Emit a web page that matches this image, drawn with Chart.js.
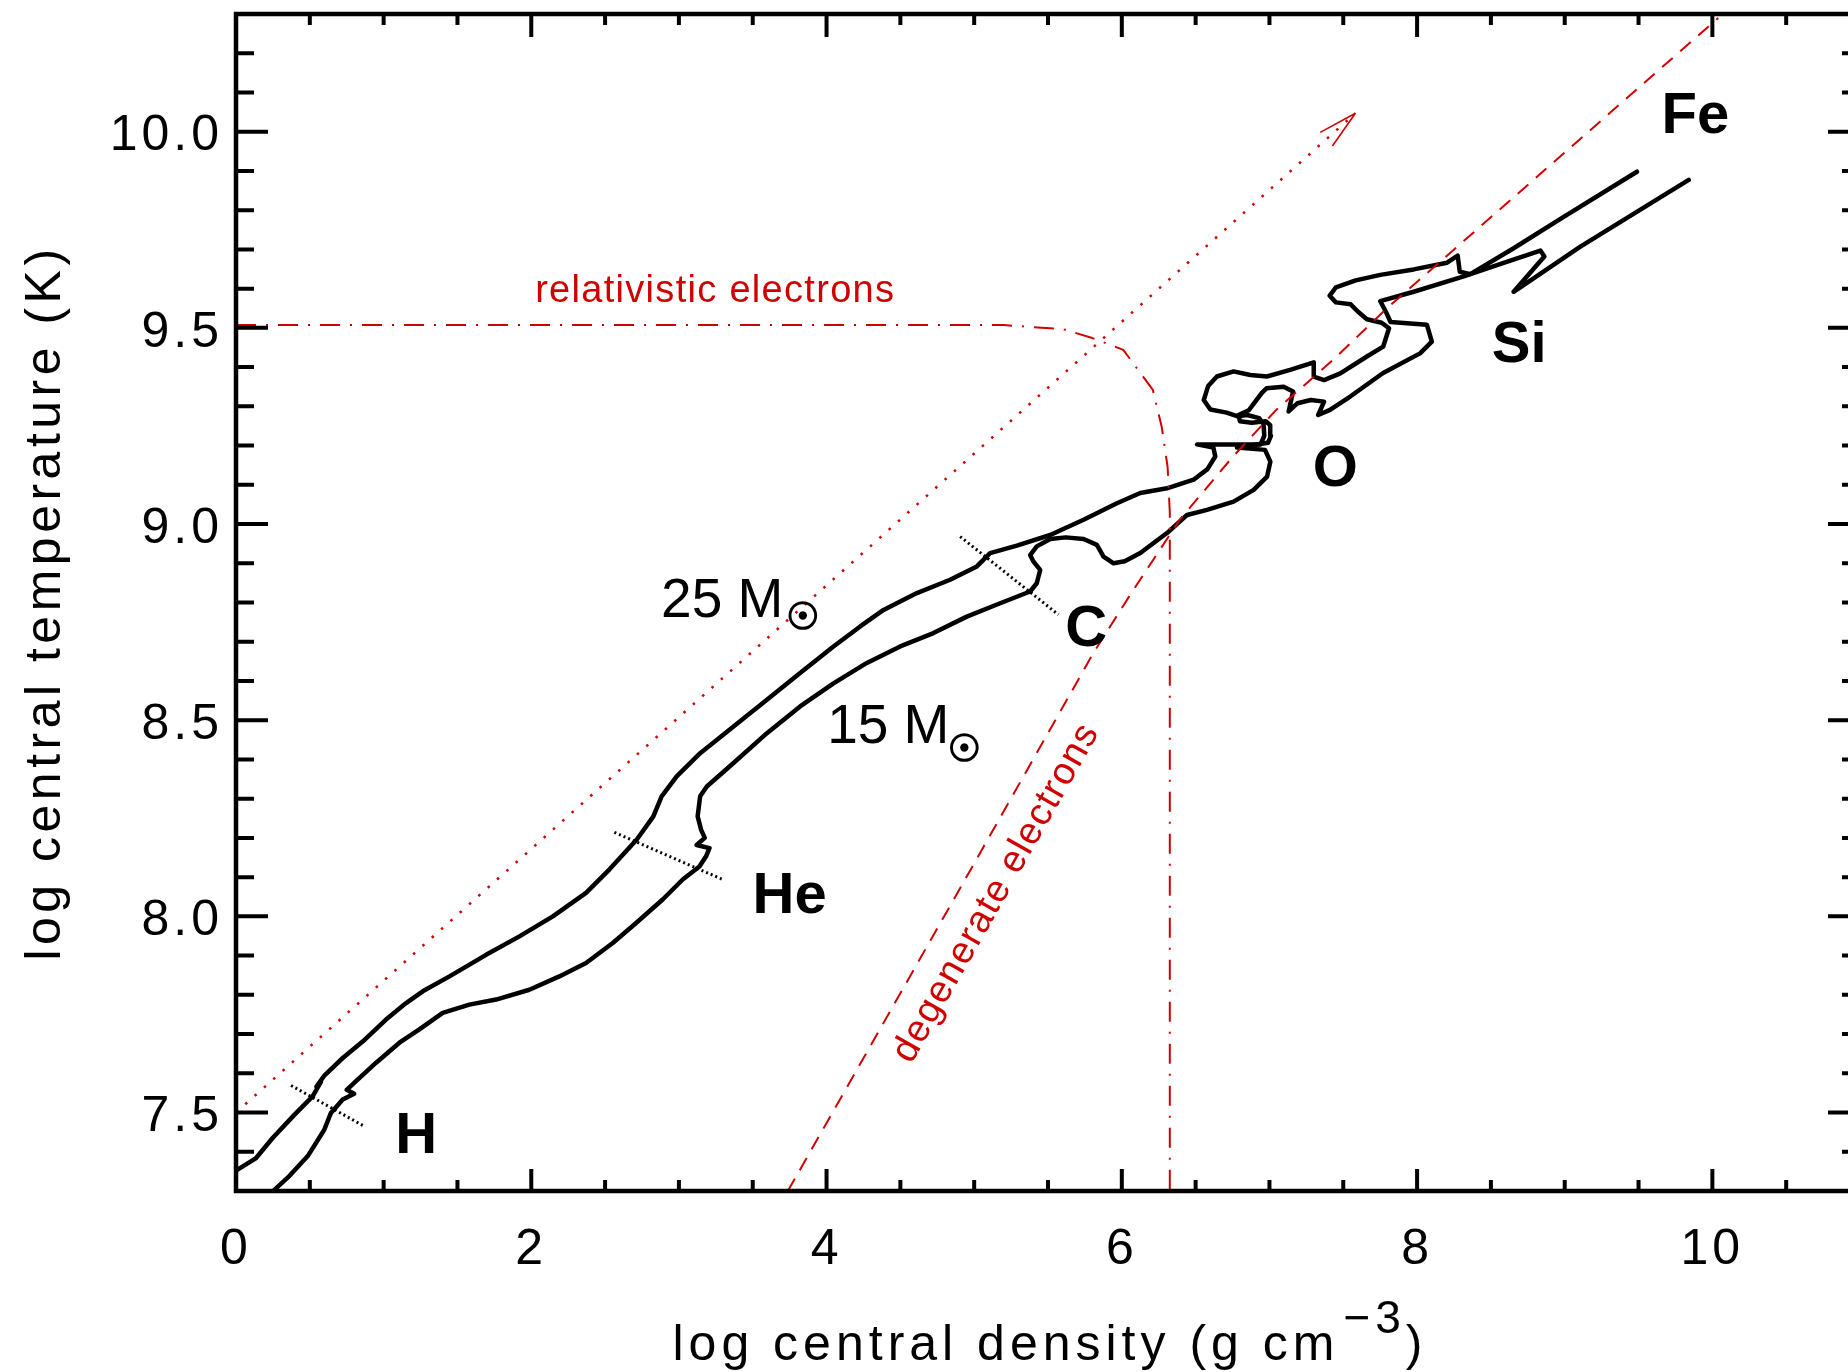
<!DOCTYPE html>
<html lang="en">
<head>
<meta charset="utf-8">
<title>Central density vs central temperature</title>
<script src="https://cdn.jsdelivr.net/npm/chart.js@4.4.1/dist/chart.umd.min.js"></script>
<style>
  html, body { margin: 0; padding: 0; background: #fff; overflow: hidden; }
  #frame { width: 1848px; height: 1372px; overflow: hidden; }
  #burnChart { display: block; }
</style>
</head>
<body>
<div id="frame"><canvas id="burnChart" width="1872" height="1372"></canvas></div>
<script>
// Tick labels shown on the axes
const xLabelValues = [0, 2, 4, 6, 8, 10];
const yLabelValues = [7.5, 8.0, 8.5, 9.0, 9.5, 10.0];

// 25 Msun track: [log rho_c, log T_c]
const track25 = [
  [0.000, 7.352], [0.136, 7.384], [0.248, 7.435], [0.395, 7.494], [0.519, 7.541],
  [0.575, 7.578], [0.545, 7.566], [0.600, 7.595], [0.723, 7.639], [0.858, 7.681],
  [1.016, 7.737], [1.152, 7.779], [1.265, 7.809], [1.446, 7.847], [1.694, 7.902],
  [1.920, 7.949], [2.146, 8.000], [2.371, 8.060], [2.530, 8.120], [2.715, 8.196],
  [2.827, 8.255], [2.883, 8.306], [2.985, 8.357], [3.144, 8.416], [3.370, 8.484],
  [3.596, 8.552], [3.821, 8.620], [4.047, 8.688], [4.228, 8.739], [4.386, 8.781],
  [4.612, 8.824], [4.837, 8.858], [5.018, 8.892], [5.108, 8.926], [5.289, 8.945],
  [5.515, 8.972], [5.741, 9.011], [5.967, 9.053], [6.125, 9.079], [6.306, 9.091],
  [6.486, 9.113], [6.580, 9.140], [6.633, 9.172], [6.620, 9.195], [6.510, 9.203],
  [6.940, 9.203], [6.965, 9.225], [6.960, 9.255], [6.930, 9.270], [6.850, 9.278],
  [6.780, 9.275], [6.710, 9.284], [6.600, 9.292], [6.555, 9.316], [6.585, 9.352],
  [6.644, 9.376], [6.757, 9.389], [6.870, 9.380], [6.983, 9.376], [7.140, 9.393],
  [7.300, 9.412], [7.300, 9.376], [7.370, 9.367], [7.480, 9.384], [7.660, 9.427],
  [7.770, 9.452], [7.810, 9.499], [7.760, 9.513], [7.660, 9.522], [7.600, 9.541],
  [7.550, 9.560], [7.450, 9.565], [7.408, 9.582], [7.450, 9.603], [7.584, 9.621],
  [7.751, 9.635], [7.977, 9.649], [8.203, 9.666], [8.275, 9.684], [8.289, 9.643],
  [8.360, 9.637], [8.654, 9.703], [8.993, 9.783], [9.489, 9.898]
];

// 15 Msun track
const track15 = [
  [0.245, 7.298], [0.361, 7.338], [0.486, 7.389], [0.598, 7.456], [0.643, 7.499],
  [0.723, 7.533], [0.800, 7.548], [0.750, 7.558], [0.813, 7.580], [0.949, 7.627],
  [1.107, 7.678], [1.242, 7.712], [1.400, 7.754], [1.581, 7.775], [1.762, 7.788],
  [1.987, 7.813], [2.190, 7.847], [2.371, 7.881], [2.552, 7.932], [2.710, 7.983],
  [2.890, 8.043], [3.026, 8.094], [3.139, 8.127], [3.184, 8.153], [3.207, 8.174],
  [3.120, 8.182], [3.175, 8.200], [3.150, 8.221], [3.127, 8.255], [3.144, 8.306],
  [3.189, 8.331], [3.370, 8.391], [3.596, 8.467], [3.821, 8.535], [4.047, 8.594],
  [4.273, 8.646], [4.499, 8.688], [4.724, 8.722], [4.950, 8.764], [5.176, 8.798],
  [5.379, 8.828], [5.424, 8.849], [5.447, 8.883], [5.402, 8.904], [5.379, 8.921],
  [5.424, 8.943], [5.515, 8.962], [5.620, 8.966], [5.741, 8.962], [5.831, 8.947],
  [5.876, 8.917], [5.944, 8.900], [6.020, 8.905], [6.125, 8.926], [6.306, 8.977],
  [6.441, 9.023], [6.577, 9.036], [6.757, 9.057], [6.893, 9.087], [6.984, 9.121],
  [7.006, 9.159], [6.970, 9.189], [6.780, 9.195], [6.990, 9.207], [7.010, 9.225],
  [7.005, 9.252], [6.975, 9.262], [6.880, 9.258], [6.800, 9.262], [6.790, 9.278],
  [6.860, 9.290], [6.900, 9.310], [6.950, 9.335], [6.980, 9.346], [7.096, 9.350],
  [7.160, 9.338], [7.130, 9.287], [7.190, 9.308], [7.280, 9.316], [7.370, 9.312],
  [7.330, 9.278], [7.410, 9.291], [7.547, 9.325], [7.770, 9.385], [8.020, 9.435],
  [8.100, 9.465], [8.066, 9.508], [7.820, 9.515], [7.790, 9.540], [7.751, 9.568],
  [7.977, 9.592], [8.316, 9.631], [8.541, 9.660], [8.835, 9.697], [8.862, 9.682],
  [8.654, 9.592], [9.106, 9.707], [9.840, 9.877]
];

// ignition markers (short dotted bars across both tracks)
const hIgnition = [[0.373, 7.569], [0.869, 7.465]];
const heIgnition = [[2.563, 8.214], [3.297, 8.094]];
const cIgnition = [[4.905, 8.968], [5.571, 8.769]];

// boundary lines
const relativisticLine = [
  [0.000, 9.507], [5.200, 9.507], [5.600, 9.497], [5.800, 9.474], [6.010, 9.444],
  [6.210, 9.342], [6.270, 9.248], [6.310, 9.146], [6.325, 9.030], [6.325, 7.300]
];
const degenerateLine = [
  [3.738, 7.300], [4.875, 8.052], [5.810, 8.673], [6.064, 8.824], [6.392, 9.011],
  [6.753, 9.172], [7.046, 9.291], [7.430, 9.418], [7.796, 9.550], [9.252, 10.030],
  [10.040, 10.290]
];
const idealGasLine = [[0.000, 7.500], [7.582, 10.047]];

// annotation text
const stageLabels = [
  ['H', 1.22, 7.397], ['He', 3.75, 8.009], ['C', 5.759, 8.689],
  ['O', 7.446, 9.097], ['Si', 8.692, 9.413], ['Fe', 9.885, 9.997]
];
const massLabels = [
  ['25 M', 2.879, 8.764, 3.840, 8.758],
  ['15 M', 4.004, 8.442, 4.934, 8.420]
];

const RED = '#d10000';
const FONT = '"Liberation Sans", Arial, sans-serif';

function toPoints(pairs) {
  return pairs.map(([x, y]) => ({x, y}));
}

function isOneOf(v, list) {
  return list.some(l => Math.abs(l - v) < 1e-6);
}

function isMultiple(v, m) {
  return Math.abs(v / m - Math.round(v / m)) < 1e-6;
}

function lineSet(label, pairs, color, width, dash, order) {
  return {
    label: label,
    data: toPoints(pairs),
    showLine: true,
    borderColor: color,
    borderWidth: width,
    borderDash: dash,
    borderCapStyle: dash.length ? 'butt' : 'round',
    borderJoinStyle: 'round',
    pointRadius: 0,
    pointHoverRadius: 0,
    tension: 0,
    order: order
  };
}

// keep the plot box fixed: no extra room for edge labels
function fixScale(s, size) {
  if (s.isHorizontal()) s.height = size; else s.width = size;
  s.paddingTop = 0;
  s.paddingBottom = 0;
  s.paddingLeft = 0;
  s.paddingRight = 0;
}

// frame, inward ticks, arrowhead and text
const decorPlugin = {
  id: 'decor',
  beforeUpdate(chart) { chart.ctx.letterSpacing = '4px'; },
  beforeDraw(chart) { chart.ctx.letterSpacing = '4px'; },
  afterDraw(chart) {
    const {ctx, chartArea: a, scales: {x, y}} = chart;
    ctx.save();

    // ticks on all four sides
    ctx.strokeStyle = '#000';
    ctx.lineWidth = 4;
    ctx.lineCap = 'butt';
    ctx.beginPath();
    x.ticks.forEach(t => {
      const px = x.getPixelForValue(t.value);
      const major = isMultiple(t.value, 2);
      ctx.moveTo(px, a.bottom); ctx.lineTo(px, a.bottom - (major ? 22 : 11));
      ctx.moveTo(px, a.top); ctx.lineTo(px, a.top + (major ? 23 : 11));
    });
    y.ticks.forEach(t => {
      const py = y.getPixelForValue(t.value);
      const major = isMultiple(t.value, 0.5);
      const len = major ? 32 : 18;
      ctx.moveTo(a.left, py); ctx.lineTo(a.left + len, py);
      ctx.moveTo(a.right, py); ctx.lineTo(a.right - len, py);
    });
    ctx.stroke();
    ctx.lineWidth = 4.5;
    ctx.strokeRect(a.left, a.top, a.right - a.left, a.bottom - a.top);

    // open arrowhead on the dotted line
    const meta = chart.getDatasetMeta(2);
    const p1 = meta.data[meta.data.length - 2];
    const p2 = meta.data[meta.data.length - 1];
    const ang = Math.atan2(p2.y - p1.y, p2.x - p1.x);
    ctx.strokeStyle = RED;
    ctx.lineWidth = 1.6;
    ctx.beginPath();
    [-0.23, 0.23].forEach(d => {
      ctx.moveTo(p2.x, p2.y);
      ctx.lineTo(p2.x - 40 * Math.cos(ang + d), p2.y - 40 * Math.sin(ang + d));
    });
    ctx.stroke();

    // axis titles
    ctx.fillStyle = '#000';
    ctx.letterSpacing = '5px';
    const mainFont = '50px ' + FONT;
    const supFont = '46px ' + FONT;
    const xMain = 'log central density (g cm';
    const xSup = '\u22123';
    ctx.font = mainFont;
    const wMain = ctx.measureText(xMain).width;
    const wClose = ctx.measureText(')').width;
    ctx.font = supFont;
    const wSup = ctx.measureText(xSup).width;
    const tx = (a.left + a.right) / 2 - (wMain + wSup + wClose) / 2;
    ctx.textAlign = 'left';
    ctx.textBaseline = 'alphabetic';
    ctx.font = mainFont;
    ctx.fillText(xMain, tx, 1360);
    ctx.font = supFont;
    ctx.fillText(xSup, tx + wMain + 4, 1333);
    ctx.font = mainFont;
    ctx.fillText(')', tx + wMain + wSup + 4, 1360);

    ctx.letterSpacing = '4.5px';
    ctx.save();
    ctx.translate(60, (a.top + a.bottom) / 2);
    ctx.rotate(-Math.PI / 2);
    ctx.textAlign = 'center';
    ctx.fillText('log central temperature (K)', 0, 0);
    ctx.restore();

    // burning stage labels
    ctx.letterSpacing = '0px';
    ctx.font = 'bold 58px ' + FONT;
    ctx.textAlign = 'center';
    stageLabels.forEach(([txt, lx, ly]) => {
      ctx.fillText(txt, x.getPixelForValue(lx), y.getPixelForValue(ly));
    });

    // mass labels with the solar symbol (stroked to thicken the ring)
    ctx.strokeStyle = '#000';
    ctx.lineWidth = 1.6;
    massLabels.forEach(([txt, lx, ly, sx, sy]) => {
      ctx.font = '55px ' + FONT;
      ctx.textAlign = 'left';
      ctx.textBaseline = 'alphabetic';
      ctx.fillText(txt, x.getPixelForValue(lx), y.getPixelForValue(ly));
      ctx.font = 'bold 37px "DejaVu Sans"';
      ctx.textAlign = 'center';
      ctx.textBaseline = 'middle';
      ctx.fillText('\u2609', x.getPixelForValue(sx), y.getPixelForValue(sy));
      ctx.strokeText('\u2609', x.getPixelForValue(sx), y.getPixelForValue(sy));
    });

    // red region labels
    ctx.fillStyle = RED;
    ctx.letterSpacing = '1.3px';
    ctx.font = '38px ' + FONT;
    ctx.textAlign = 'center';
    ctx.textBaseline = 'alphabetic';
    ctx.fillText('relativistic electrons', x.getPixelForValue(3.246), y.getPixelForValue(9.566));
    ctx.save();
    ctx.translate(x.getPixelForValue(5.15), y.getPixelForValue(8.06));
    ctx.rotate(-60.5 * Math.PI / 180);
    ctx.textBaseline = 'middle';
    ctx.fillText('degenerate electrons', 0, 0);
    ctx.restore();

    ctx.restore();
  }
};

new Chart(document.getElementById('burnChart').getContext('2d'), {
  type: 'scatter',
  data: {
    datasets: [
      lineSet('relativistic electrons', relativisticLine, RED, 2, [20, 10, 2, 10], 0),
      lineSet('degenerate electrons', degenerateLine, RED, 2, [14, 10], 0),
      lineSet('T ~ rho^1/3', idealGasLine, RED, 2.5, [2.5, 10], 0),
      lineSet('25 Msun', track25, '#000', 4.5, [], 1),
      lineSet('15 Msun', track15, '#000', 4.5, [], 1),
      lineSet('H ignition', hIgnition, '#000', 3, [2, 3], 1),
      lineSet('He ignition', heIgnition, '#000', 3, [2, 3], 1),
      lineSet('C ignition', cIgnition, '#000', 3, [2, 3], 1)
    ]
  },
  options: {
    responsive: false,
    devicePixelRatio: 1,
    animation: false,
    events: [],
    layout: { padding: { left: 0, right: 12, top: 14, bottom: 0 } },
    plugins: {
      legend: { display: false },
      tooltip: { enabled: false }
    },
    scales: {
      x: {
        type: 'linear',
        position: 'bottom',
        min: 0,
        max: 11,
        grid: { display: false, drawTicks: false },
        border: { display: false },
        ticks: {
          stepSize: 0.5,
          autoSkip: false,
          maxRotation: 0,
          minRotation: 0,
          padding: 34,
          color: '#000',
          font: { family: FONT, size: 50, lineHeight: 1 },
          callback: v => isOneOf(v, xLabelValues) ? String(v) : ''
        },
        afterFit: s => fixScale(s, 181)
      },
      y: {
        type: 'linear',
        position: 'left',
        min: 7.3,
        max: 10.3,
        grid: { display: false, drawTicks: false },
        border: { display: false },
        ticks: {
          stepSize: 0.1,
          autoSkip: false,
          padding: 13,
          labelOffset: 5,
          color: '#000',
          font: { family: FONT, size: 50, lineHeight: 1 },
          callback: v => isOneOf(v, yLabelValues) ? v.toFixed(1) : ''
        },
        afterFit: s => fixScale(s, 236)
      }
    }
  },
  plugins: [decorPlugin]
});
</script>
</body>
</html>
